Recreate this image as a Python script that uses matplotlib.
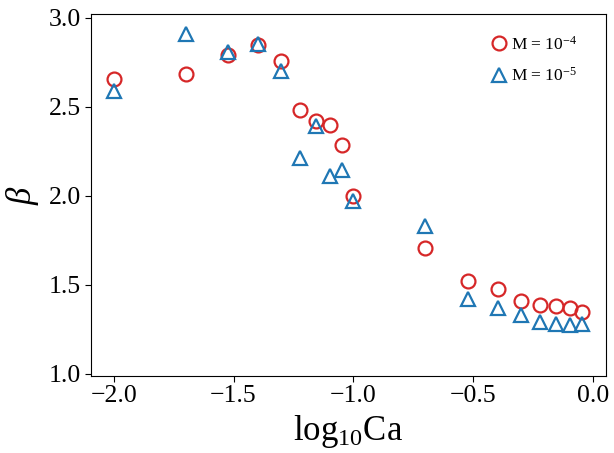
import matplotlib
matplotlib.use("Agg")
import matplotlib.pyplot as plt

plt.rcParams['font.family'] = ['Liberation Serif', 'DejaVu Serif']
plt.rcParams['mathtext.fontset'] = 'custom'
plt.rcParams['mathtext.rm'] = 'Liberation Serif'
plt.rcParams['mathtext.it'] = 'Liberation Serif:italic'

# log10 of capillary number
log_ca = [-2.0, -1.70, -1.523, -1.398, -1.301, -1.222, -1.155, -1.097, -1.046, -1.0,
          -0.699, -0.523, -0.398, -0.301, -0.222, -0.155, -0.097, -0.046]

# beta for M = 1e-4
beta_m4 = [2.655, 2.685, 2.79, 2.847, 2.757, 2.48, 2.42, 2.40, 2.285, 2.0,
           1.706, 1.52, 1.476, 1.41, 1.386, 1.38, 1.369, 1.347]
# beta for M = 1e-5
beta_m5 = [2.59, 2.91, 2.81, 2.85, 2.70, 2.21, 2.39, 2.11, 2.145, 1.97,
           1.83, 1.42, 1.37, 1.33, 1.29, 1.28, 1.275, 1.28]

fig = plt.figure(figsize=(6.14, 4.53), dpi=100)
ax = fig.add_axes([0.1482, 0.1706, 0.8388, 0.7978])

ax.plot(log_ca, beta_m4, 'o', ms=10, mfc='none', mec='#d62728', mew=1.6,
        ls='none', label=r'M = $10^{-4}$')
ax.plot(log_ca, beta_m5, '^', ms=10, mfc='none', mec='#1f77b4', mew=1.6,
        ls='none', label=r'M = $10^{-5}$')

ax.set_xlim(-2.095, 0.055)
ax.set_ylim(0.989, 3.019)
ax.set_xticks([-2.0, -1.5, -1.0, -0.5, 0.0])
ax.set_yticks([1.0, 1.5, 2.0, 2.5, 3.0])
ax.tick_params(labelsize=18.5, length=4, pad=3)

ax.set_xlabel(r'$\mathrm{log_{10}Ca}$', fontsize=25, labelpad=4)
ax.set_ylabel(r'$\beta$', fontsize=25, labelpad=6)

ax.legend(loc='upper right', frameon=False, fontsize=12.5, handletextpad=0.1,
          handlelength=1.2, bbox_to_anchor=(0.975, 0.985), labelspacing=0.8)

fig.savefig('out.png', dpi=100)
